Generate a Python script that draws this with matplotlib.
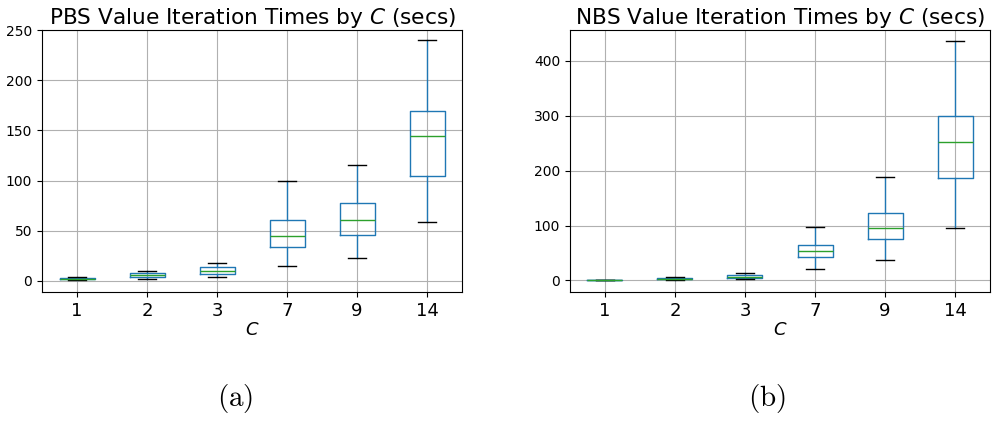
import matplotlib
matplotlib.use("Agg")
import matplotlib.pyplot as plt

matplotlib.rcParams["mathtext.fontset"] = "dejavusans"

# Box statistics per value of C (seconds)
c_values = ["1", "2", "3", "7", "9", "14"]

pbs_whislo = [0.5, 2, 4, 15, 23, 59]
pbs_q1 = [1.5, 4, 7, 34, 46, 105]
pbs_med = [2, 6, 10, 45, 61, 144]
pbs_q3 = [3, 8, 14, 61, 78, 169]
pbs_whishi = [4, 10, 18, 100, 116, 240]

nbs_whislo = [0.3, 1, 3, 20, 38, 95]
nbs_q1 = [0.4, 2, 5, 42, 76, 187]
nbs_med = [0.5, 3, 7, 53, 96, 253]
nbs_q3 = [0.6, 5, 10, 65, 122, 300]
nbs_whishi = [0.7, 7, 14, 98, 189, 436]


def make_stats(lo, q1, med, q3, hi):
    stats = []
    for i in range(len(c_values)):
        stats.append({"whislo": lo[i], "q1": q1[i], "med": med[i],
                      "q3": q3[i], "whishi": hi[i], "fliers": [],
                      "label": c_values[i]})
    return stats


def draw(ax, stats, title, ylim, yticks):
    ax.bxp(stats, positions=range(1, len(stats) + 1), widths=0.5,
           showfliers=False,
           boxprops=dict(color="#1f77b4"),
           whiskerprops=dict(color="#1f77b4"),
           capprops=dict(color="black"),
           medianprops=dict(color="#2ca02c"))
    ax.set_xlim(0.5, len(stats) + 0.5)
    ax.set_ylim(*ylim)
    ax.set_yticks(yticks)
    ax.grid(True, color="#b0b0b0", linewidth=0.8)
    ax.set_axisbelow(True)
    ax.set_title(title, fontsize=15.6, pad=3)
    ax.set_xlabel("$C$", fontsize=13, labelpad=1)
    ax.tick_params(axis="x", labelsize=13)
    ax.tick_params(axis="y", labelsize=10)


fig = plt.figure(figsize=(9.93, 4.25), dpi=100)
ax1 = fig.add_axes([0.0423, 0.313, 0.423, 0.616])
ax2 = fig.add_axes([0.574, 0.313, 0.423, 0.616])

draw(ax1, make_stats(pbs_whislo, pbs_q1, pbs_med, pbs_q3, pbs_whishi),
     "PBS Value Iteration Times by $C$ (secs)", (-11, 250),
     [0, 50, 100, 150, 200, 250])
draw(ax2, make_stats(nbs_whislo, nbs_q1, nbs_med, nbs_q3, nbs_whishi),
     "NBS Value Iteration Times by $C$ (secs)", (-21, 456),
     [0, 100, 200, 300, 400])

# sub-figure captions in Computer Modern
fig.text(0.2366, 0.045, r"$\mathrm{(a)}$", fontsize=21, ha="center",
         math_fontfamily="cm")
fig.text(0.7724, 0.045, r"$\mathrm{(b)}$", fontsize=21, ha="center",
         math_fontfamily="cm")

fig.savefig("out.png", dpi=100)
